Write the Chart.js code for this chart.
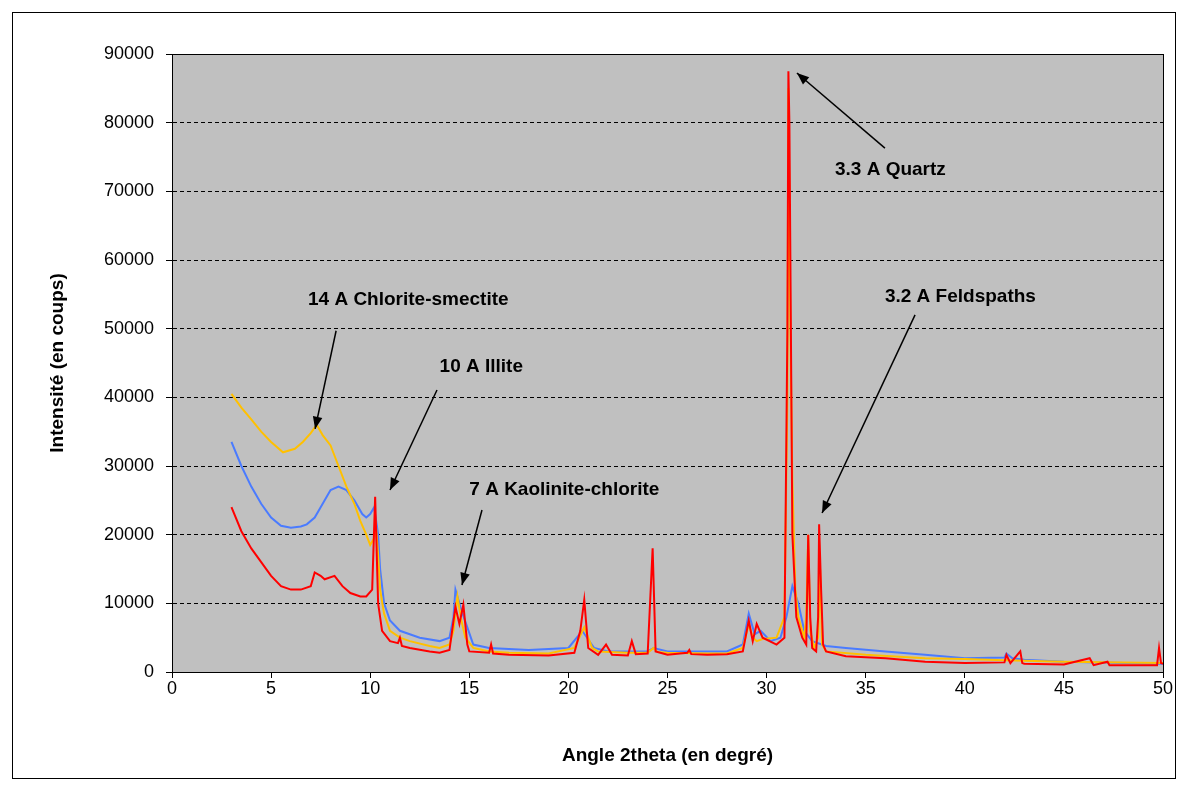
<!DOCTYPE html>
<html>
<head>
<meta charset="utf-8">
<script src="https://cdn.jsdelivr.net/npm/chart.js@4"></script>
<style>
  html, body { margin: 0; padding: 0; background: #fff; }
  #frame { position: absolute; left: 12px; top: 12px; width: 1162px; height: 765px; border: 1px solid #000; }
  #wrap { position: absolute; left: 0; top: 0; width: 1186px; height: 789px; }
</style>
</head>
<body>
<div id="frame"></div>
<div id="wrap"><canvas id="xrd"></canvas></div>
<script>
// Angle 2theta / intensity pairs
const yellowX = [3, 3.5, 4, 4.5, 5, 5.6, 6.2, 6.6, 7, 7.3, 7.6, 8, 8.4, 8.8, 9.2, 9.5, 9.8, 10, 10.2, 10.3, 10.4, 10.5, 10.7, 11, 11.5, 12, 13, 13.5, 14, 14.2, 14.4, 14.6, 14.8, 15.2, 16, 17, 19, 20.3, 20.8, 21.2, 21.5, 23, 24, 24.3, 24.5, 25, 27, 28, 28.8, 29.1, 29.3, 29.5, 29.8, 30.5, 30.9, 31.05, 31.1, 31.2, 31.3, 31.45, 31.6, 31.9, 32.0, 32.1, 32.2, 32.4, 32.6, 32.7, 32.8, 33, 35, 38, 40, 42, 45, 48, 50];
const yellowY = [40500, 38500, 36800, 35000, 33500, 32000, 32500, 33500, 34800, 36000, 34500, 33000, 30000, 27000, 24500, 22000, 20000, 18500, 19500, 21000, 17000, 12000, 8500, 6000, 5000, 4500, 3800, 3500, 4000, 6000, 11000, 7500, 5000, 3500, 3000, 2800, 2700, 3500, 6500, 3500, 3000, 2800, 2800, 3500, 2900, 2800, 2700, 2700, 3500, 7000, 5000, 4500, 4800, 5000, 8000, 40000, 85000, 50000, 28000, 12000, 8000, 5000, 8000, 20000, 6000, 3500, 5000, 15000, 4000, 3000, 2500, 2000, 1900, 1700, 1500, 1400, 1300];

const redX = [3, 3.5, 4, 4.5, 5, 5.5, 6, 6.5, 7, 7.2, 7.5, 7.7, 8.2, 8.6, 9, 9.5, 9.8, 10.1, 10.25, 10.4, 10.6, 11, 11.4, 11.5, 11.6, 12, 13, 13.5, 14, 14.3, 14.5, 14.7, 14.9, 15, 16, 16.1, 16.2, 17, 19, 20.3, 20.6, 20.8, 21, 21.5, 21.9, 22.2, 23, 23.2, 23.4, 24, 24.25, 24.4, 25, 26, 26.1, 26.2, 27, 28, 28.8, 29.1, 29.3, 29.5, 29.8, 30.5, 30.9, 31.05, 31.1, 31.15, 31.2, 31.3, 31.5, 31.8, 32, 32.1, 32.2, 32.3, 32.5, 32.6, 32.65, 32.75, 32.85, 33, 34, 36, 38, 40, 42, 42.1, 42.3, 42.8, 42.9, 43, 45, 46.3, 46.5, 47.2, 47.3, 48, 49.7, 49.8, 49.9, 50];
const redY = [24000, 20500, 18000, 16000, 14000, 12500, 12000, 12000, 12500, 14500, 14000, 13500, 14000, 12500, 11500, 11000, 11000, 12000, 25500, 10000, 6000, 4500, 4200, 5000, 3800, 3500, 3000, 2800, 3200, 9500, 7000, 9800, 4000, 3000, 2800, 4000, 2700, 2500, 2400, 2800, 6000, 10500, 3500, 2500, 4000, 2500, 2400, 4500, 2600, 2700, 18000, 3000, 2500, 2800, 3200, 2600, 2500, 2600, 3000, 7500, 4500, 7000, 5000, 4000, 5000, 50000, 87500, 80000, 60000, 20000, 8000, 5000, 4000, 20000, 8000, 3500, 3000, 8000, 21500, 12000, 4000, 3000, 2300, 2000, 1500, 1300, 1400, 2500, 1300, 3000, 1300, 1200, 1100, 2000, 1000, 1500, 1000, 1000, 1000, 3500, 1300, 1200];

const blueX = [3, 3.5, 4, 4.5, 5, 5.5, 6, 6.5, 6.8, 7.2, 7.5, 8, 8.4, 8.8, 9.2, 9.6, 9.8, 10, 10.2, 10.4, 10.5, 10.7, 11, 11.5, 12.5, 13.5, 14, 14.2, 14.3, 14.6, 15.2, 16, 18, 20, 20.7, 21.3, 22, 24, 24.3, 25, 28, 28.8, 29.1, 29.4, 29.7, 30.2, 30.7, 31, 31.3, 31.6, 31.9, 32.3, 33, 34, 36, 38, 40, 42, 42.1, 42.4, 43, 45, 48, 50];
const blueY = [33500, 30000, 27000, 24500, 22500, 21300, 21000, 21200, 21500, 22500, 24000, 26500, 27000, 26500, 25000, 23000, 22500, 23000, 24000, 20000, 15000, 10000, 7500, 6000, 5000, 4500, 5000, 8000, 12000, 9000, 4000, 3500, 3200, 3500, 6000, 3500, 3000, 3000, 3500, 3000, 3000, 4000, 8500, 5500, 6000, 4500, 5000, 8000, 12500, 10000, 6000, 4500, 3800, 3500, 3000, 2500, 2000, 2100, 2700, 2000, 1800, 1500, 1300, 1200];

const xTicks = [0, 50, 5];
const yTicks = [0, 90000, 10000];

// annotations: text anchor and arrow tail/head in data units
const notes = [
  { text: '14 A Chlorite-smectite', tx: 6.86, ty: 54200, from: [8.28, 49700], to: [7.22, 35400] },
  { text: '10 A Illite', tx: 13.5, ty: 44400, from: [13.37, 41070], to: [11.0, 26500] },
  { text: '7 A Kaolinite-chlorite', tx: 15.0, ty: 26500, from: [15.64, 23590], to: [14.63, 12670] },
  { text: '3.3 A Quartz', tx: 33.45, ty: 73100, from: [35.97, 76300], to: [31.53, 87230] },
  { text: '3.2 A Feldspaths', tx: 35.97, ty: 54600, from: [37.49, 52000], to: [32.8, 23150] },
];

function pairs(xs, ys) {
  return xs.map((x, i) => ({ x: x, y: ys[i] }));
}

const plotDecor = {
  id: 'plotDecor',
  beforeDraw(chart) {
    const a = chart.chartArea, c = chart.ctx;
    c.save();
    c.fillStyle = '#C0C0C0';
    c.fillRect(a.left, a.top, a.right - a.left, a.bottom - a.top);
    c.restore();
  },
  afterDraw(chart) {
    const a = chart.chartArea, c = chart.ctx;
    const xs = chart.scales.x, ys = chart.scales.y;
    c.save();
    c.strokeStyle = '#000';
    c.lineWidth = 1;
    c.strokeRect(a.left + 0.5, a.top + 0.5, a.right - a.left, a.bottom - a.top);

    c.font = 'bold 19px "Liberation Sans", Arial, sans-serif';
    c.fillStyle = '#000';
    c.textBaseline = 'middle';
    notes.forEach(n => {
      c.fillText(n.text, xs.getPixelForValue(n.tx), ys.getPixelForValue(n.ty));
      const x1 = xs.getPixelForValue(n.from[0]), y1 = ys.getPixelForValue(n.from[1]);
      const x2 = xs.getPixelForValue(n.to[0]), y2 = ys.getPixelForValue(n.to[1]);
      c.lineWidth = 1.5;
      c.beginPath(); c.moveTo(x1, y1); c.lineTo(x2, y2); c.stroke();
      const ang = Math.atan2(y2 - y1, x2 - x1), L = 13, W = 0.38;
      c.beginPath();
      c.moveTo(x2, y2);
      c.lineTo(x2 - L * Math.cos(ang - W), y2 - L * Math.sin(ang - W));
      c.lineTo(x2 - L * Math.cos(ang + W), y2 - L * Math.sin(ang + W));
      c.closePath(); c.fill();
    });
    c.restore();
  }
};

const tickFont = { family: '"Liberation Sans", Arial, sans-serif', size: 18 };
const titleFont = { family: '"Liberation Sans", Arial, sans-serif', size: 19, weight: 'bold' };

new Chart(document.getElementById('xrd'), {
  type: 'line',
  data: {
    datasets: [
      { label: 'bleu', data: pairs(blueX, blueY), borderColor: '#4A7BFF', borderWidth: 2, pointRadius: 0, tension: 0, order: 3 },
      { label: 'jaune', data: pairs(yellowX, yellowY), borderColor: '#FFC000', borderWidth: 2, pointRadius: 0, tension: 0, order: 2 },
      { label: 'rouge', data: pairs(redX, redY), borderColor: '#FF0000', borderWidth: 2, pointRadius: 0, tension: 0, order: 1 },
    ],
  },
  options: {
    responsive: true,
    maintainAspectRatio: false,
    animation: false,
    layout: { padding: { left: 42, right: 23, top: 54, bottom: 18 } },
    plugins: { legend: { display: false }, tooltip: { enabled: false } },
    scales: {
      x: {
        type: 'linear',
        min: xTicks[0], max: xTicks[1],
        ticks: { stepSize: xTicks[2], color: '#000', font: tickFont, padding: 0, callback: v => String(v) },
        grid: { drawOnChartArea: false, color: '#000', tickLength: 6 },
        border: { color: '#000' },
        title: { display: true, text: 'Angle 2theta (en degré)', color: '#000', font: titleFont, padding: { top: 14 } },
        afterFit(scale) { scale.height = 99; },
      },
      y: {
        min: yTicks[0], max: yTicks[1],
        ticks: { stepSize: yTicks[2], color: '#000', font: tickFont, padding: 12, callback: v => String(v) },
        grid: { color: '#000', tickLength: 6 },
        border: { color: '#000', dash: [4, 3] },
        title: { display: true, text: 'Intensité (en coups)', color: '#000', font: titleFont, padding: { bottom: 4 } },
        afterFit(scale) { scale.width = 130; },
      },
    },
  },
  plugins: [plotDecor],
});
</script>
</body>
</html>
